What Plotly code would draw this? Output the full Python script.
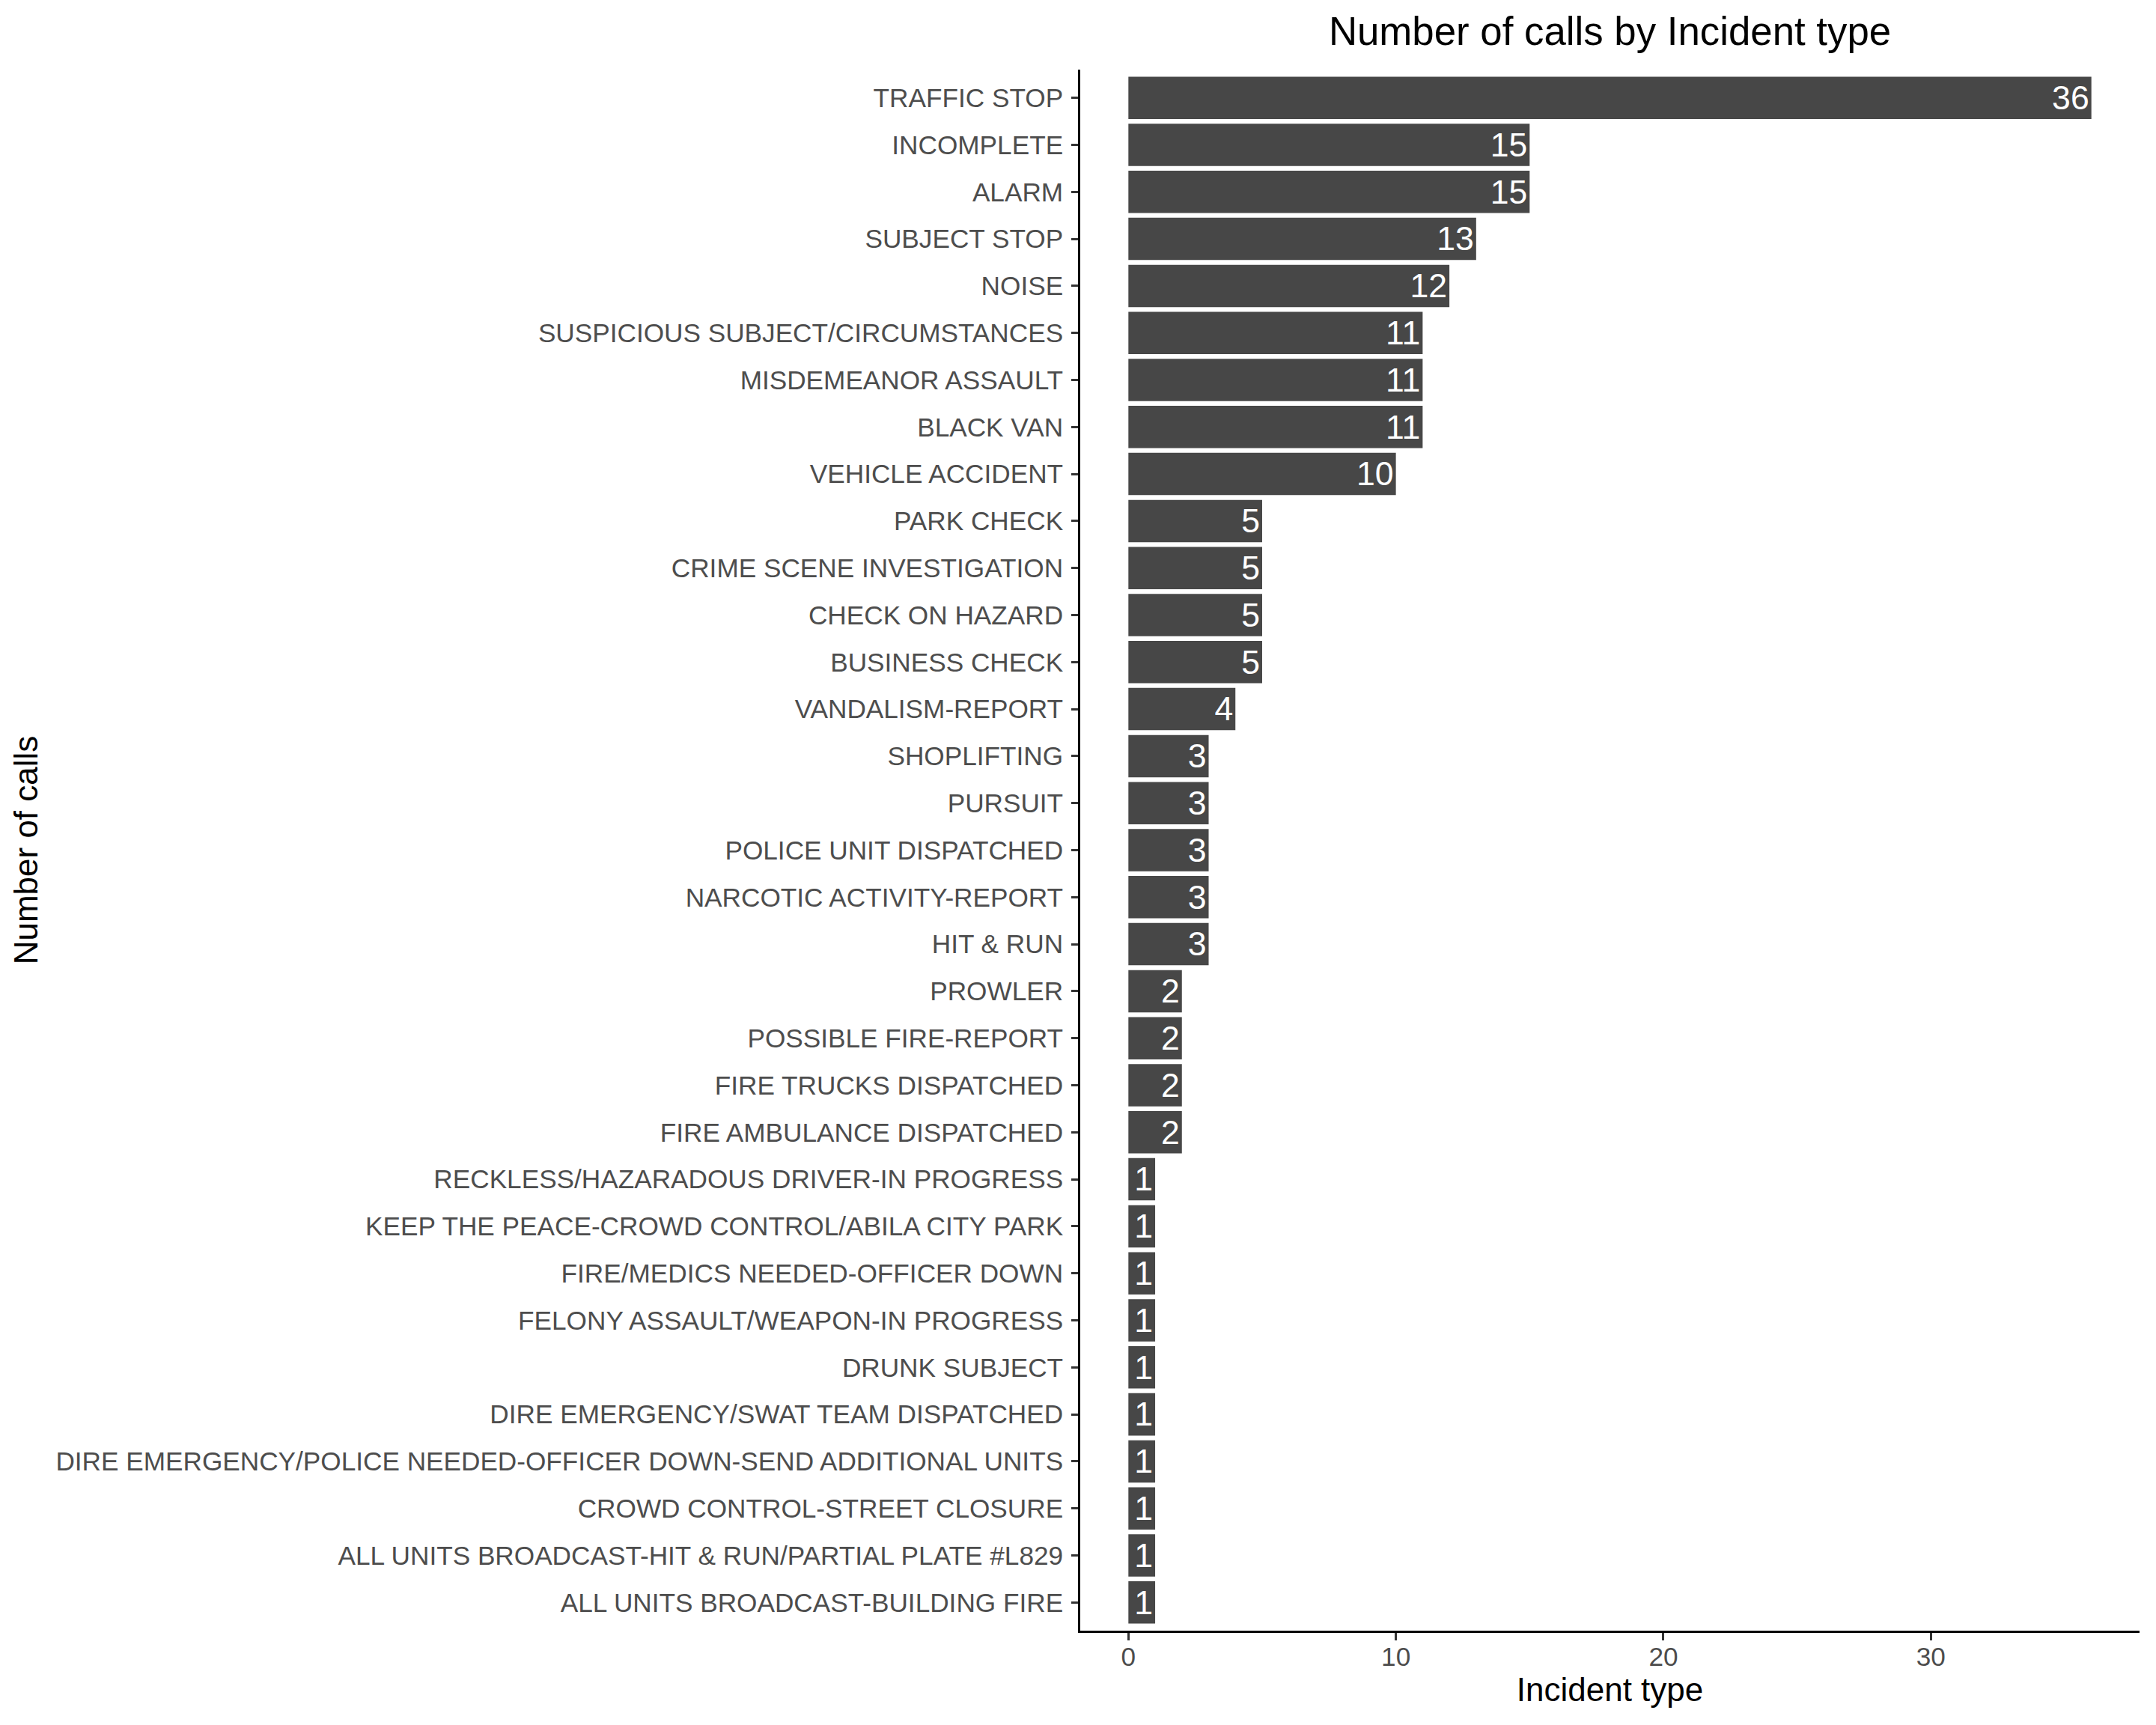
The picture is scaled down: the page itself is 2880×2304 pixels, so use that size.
import plotly.graph_objects as go

categories = [
    "TRAFFIC STOP", "INCOMPLETE", "ALARM", "SUBJECT STOP", "NOISE",
    "SUSPICIOUS SUBJECT/CIRCUMSTANCES", "MISDEMEANOR ASSAULT", "BLACK VAN",
    "VEHICLE ACCIDENT", "PARK CHECK", "CRIME SCENE INVESTIGATION",
    "CHECK ON HAZARD", "BUSINESS CHECK", "VANDALISM-REPORT", "SHOPLIFTING",
    "PURSUIT", "POLICE UNIT DISPATCHED", "NARCOTIC ACTIVITY-REPORT",
    "HIT & RUN", "PROWLER", "POSSIBLE FIRE-REPORT", "FIRE TRUCKS DISPATCHED",
    "FIRE AMBULANCE DISPATCHED", "RECKLESS/HAZARADOUS DRIVER-IN PROGRESS",
    "KEEP THE PEACE-CROWD CONTROL/ABILA CITY PARK",
    "FIRE/MEDICS NEEDED-OFFICER DOWN", "FELONY ASSAULT/WEAPON-IN PROGRESS",
    "DRUNK SUBJECT", "DIRE EMERGENCY/SWAT TEAM DISPATCHED",
    "DIRE EMERGENCY/POLICE NEEDED-OFFICER DOWN-SEND ADDITIONAL UNITS",
    "CROWD CONTROL-STREET CLOSURE",
    "ALL UNITS BROADCAST-HIT & RUN/PARTIAL PLATE #L829",
    "ALL UNITS BROADCAST-BUILDING FIRE",
]
counts = [36, 15, 15, 13, 12, 11, 11, 11, 10, 5, 5, 5, 5, 4, 3, 3, 3, 3, 3,
          2, 2, 2, 2, 1, 1, 1, 1, 1, 1, 1, 1, 1, 1]
x_ticks = [0, 10, 20, 30]

FONT = "Liberation Sans, Arial, Helvetica, sans-serif"
# page body keeps an 8px default margin, so the figure is 8px smaller
W, H = 2872, 2296

fig = go.Figure()
fig.add_trace(go.Bar(
    x=counts, y=categories, orientation="h",
    marker=dict(color="#474747", line=dict(width=0)),
    width=0.9,
    text=[str(c) for c in counts],
    textposition="inside", insidetextanchor="end", textangle=0,
    textfont=dict(color="white", size=45, family=FONT),
    hoverinfo="x+y",
    cliponaxis=False,
))

n = len(categories)
fig.update_layout(
    width=W, height=H,
    margin=dict(l=1435, r=22, t=85, b=126, autoexpand=False),
    paper_bgcolor="white", plot_bgcolor="white",
    font=dict(family=FONT, color="#000000"),
    uniformtext=dict(mode=False),
    showlegend=False,
    bargap=0.1,
    title=dict(text="Number of calls by Incident type", x=0.5, xref="paper",
               y=1 - 34 / H, yref="container", yanchor="middle",
               xanchor="center", font=dict(size=52.8, color="#000000", family=FONT)),
    xaxis=dict(
        range=[-1.8, 37.8], tickvals=x_ticks, ticktext=[str(t) for t in x_ticks],
        showgrid=False, zeroline=False,
        showline=True, linecolor="#000000", linewidth=2.7,
        ticks="outside", ticklen=10, tickwidth=2.7, tickcolor="#333333",
        tickfont=dict(size=35.2, color="#4D4D4D", family=FONT),
        ticklabelstandoff=-8,
        title=dict(text="Incident type", standoff=8,
                   font=dict(size=44, color="#000000", family=FONT)),
        automargin=False,
    ),
    yaxis=dict(
        type="category", categoryorder="array", categoryarray=categories,
        range=[n - 1 + 0.6, -0.6],
        showgrid=False, zeroline=False,
        showline=True, linecolor="#000000", linewidth=2.7,
        ticks="outside", ticklen=9, tickwidth=2.7, tickcolor="#333333",
        tickfont=dict(size=35.2, color="#4D4D4D", family=FONT),
        ticklabelstandoff=4,
        title=dict(text="Number of calls", standoff=10,
                   font=dict(size=44, color="#000000", family=FONT)),
        automargin=False,
    ),
)
fig.write_html("out.html")
